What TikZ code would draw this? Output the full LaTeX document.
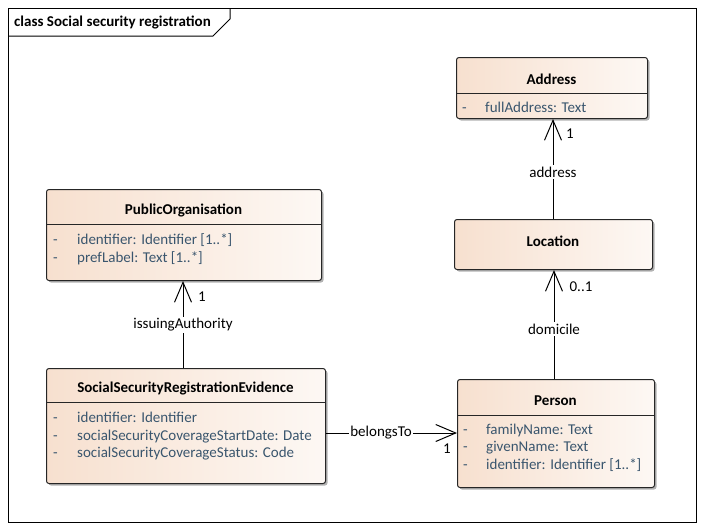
\documentclass[tikz,border=0pt]{standalone}
\usepackage{fontspec}
\setmainfont{Carlito}
\usetikzlibrary{arrows.meta,shadows}
\definecolor{peach}{HTML}{F7E0CF}
\definecolor{paleend}{HTML}{FDF8F4}
\definecolor{attr}{HTML}{3A566E}
\newcommand{\fsz}{\fontsize{15}{17}\selectfont}
\tikzset{
  cls/.style={draw=black!85, line width=1pt, rounded corners=2.5pt,
    left color=peach, right color=paleend, anchor=north west, inner sep=0pt,
    drop shadow={shadow xshift=2pt, shadow yshift=-2pt, opacity=0.3, fill=black}},
  ttl/.style={font=\fsz\bfseries, inner sep=0pt},
  att/.style={font=\fsz, text=attr, anchor=west, inner sep=0pt, text height=10.5pt, text depth=3.5pt, yshift=-1.5pt},
  sep/.style={draw=black!85, line width=1pt},
  assoc/.style={draw=black, line width=1pt, -{Straight Barb[length=20pt,width=17pt,line width=1pt]}},
  lbl/.style={font=\fsz, fill=white, inner sep=1.5pt},
  mult/.style={font=\fsz, inner sep=0pt},
}
\begin{document}
\begin{tikzpicture}[x=1pt,y=-1pt]
\useasboundingbox (0,0) rectangle (704,530);
\fill[white] (0,0) rectangle (704,530);
% frame
\draw[line width=1pt] (8,8) rectangle (696,522);
\draw[line width=1pt] (8,36) -- (213,36) -- (230,19) -- (230,8);
\node[font=\fsz\bfseries, anchor=west, inner sep=0pt] (frametitle) at (14,22) {class Social security registration};

% PublicOrganisation
\node[cls, minimum width=275pt, minimum height=91pt] (po) at (46,189) {};
\draw[sep] (46,224) -- (321,224);
\node[ttl] (pot) at (183.5,210) {PublicOrganisation};
\node[att] (poa1d) at (53,239) {-};
\node[att] (poa1) at (77,239) {identifier: Identifier [1..*]};
\node[att] (poa2d) at (53,257) {-};
\node[att] (poa2) at (77,257) {prefLabel: Text [1..*]};

% SocialSecurityRegistrationEvidence
\node[cls, minimum width=279pt, minimum height=115pt] (ev) at (46,368) {};
\draw[sep] (46,402) -- (325,402);
\node[ttl] (evt) at (185.5,388) {SocialSecurityRegistrationEvidence};
\node[att] (eva1d) at (53,417) {-};
\node[att] (eva1) at (77,417) {identifier: Identifier};
\node[att] (eva2d) at (53,435) {-};
\node[att] (eva2) at (77,435) {socialSecurityCoverageStartDate: Date};
\node[att] (eva3d) at (53,452) {-};
\node[att] (eva3) at (77,452) {socialSecurityCoverageStatus: Code};

% Person
\node[cls, minimum width=197pt, minimum height=108pt] (pe) at (457,379) {};
\draw[sep] (457,415) -- (654,415);
\node[ttl] (pet) at (555.5,401) {Person};
\node[att] (pea1d) at (463,429) {-};
\node[att] (pea1) at (486,429) {familyName: Text};
\node[att] (pea2d) at (463,446) {-};
\node[att] (pea2) at (486,446) {givenName: Text};
\node[att] (pea3d) at (463,464) {-};
\node[att] (pea3) at (486,464) {identifier: Identifier [1..*]};

% Address
\node[cls, minimum width=191pt, minimum height=61pt] (ad) at (456,57) {};
\draw[sep] (456,93) -- (647,93);
\node[ttl] (adt) at (551.5,79) {Address};
\node[att] (ada1d) at (462,107) {-};
\node[att] (ada1) at (485,107) {fullAddress: Text};

% Location
\node[cls, minimum width=198pt, minimum height=50pt] (lo) at (454,219) {};
\node[ttl] (lot) at (553,241) {Location};

% connectors
\draw[assoc] (ev.north -| 183,0) -- (po.south -| 183,0)
  node[pos=0.5, lbl] (l1) {issuingAuthority};
\node[mult] (m1) at (202,297) {1};

\draw[assoc] (ev.east |- 0,433) -- (pe.west |- 0,433)
  node[pos=0.42, lbl] (l2) {belongsTo};
\node[mult] (m2) at (447,449) {1};

\draw[assoc] (pe.north -| 554,0) -- (lo.south -| 554,0)
  node[pos=0.46, lbl] (l3) {domicile};
\node[mult] (m3) at (581,287) {0..1};

\draw[assoc] (lo.north -| 553,0) -- (ad.south -| 553,0)
  node[pos=0.47, lbl] (l4) {address};
\node[mult] (m4) at (570,134) {1};
\end{tikzpicture}
\end{document}
